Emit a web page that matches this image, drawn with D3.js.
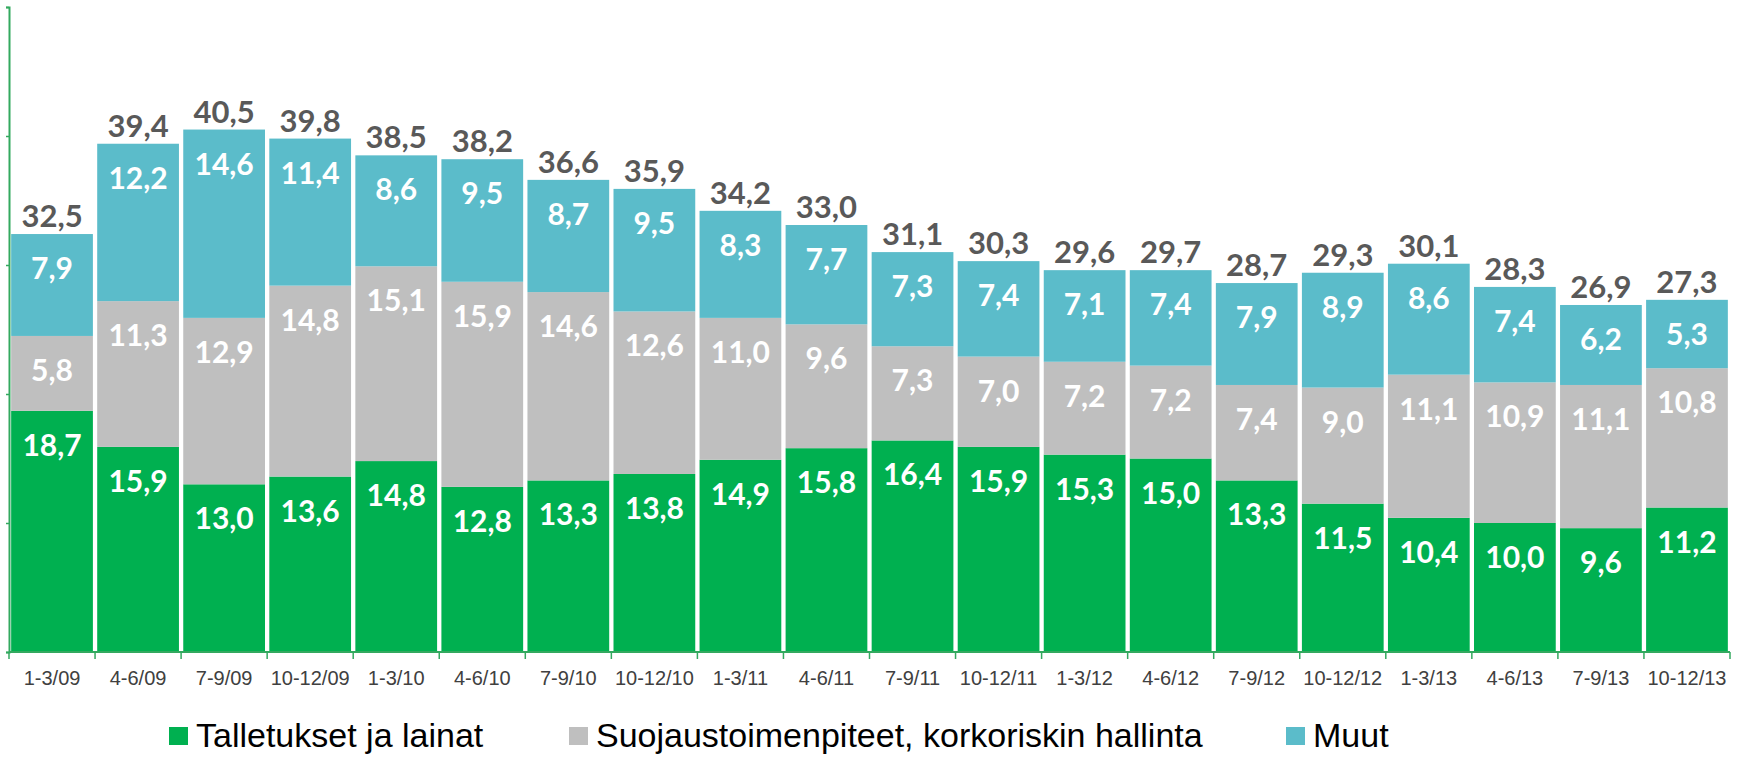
<!DOCTYPE html>
<html>
<head>
<meta charset="utf-8">
<script src="https://cdn.jsdelivr.net/npm/d3@7"></script>
<style>
  body { margin: 0; background: #fff; }
  svg { display: block; }
  .seg_label { font-family: Lato, "Open Sans", sans-serif; font-weight: 700; fill: #fff; }
  .total_label { font-family: Lato, "Open Sans", sans-serif; font-weight: 700; fill: #595959; }
  .tick text { font-family: "Liberation Sans", Arial, sans-serif; }
  .legend_text { font-family: "Liberation Sans", Arial, sans-serif; fill: #000; }
</style>
</head>
<body>
<svg id="chart" width="1749" height="757"></svg>
<script>
// quarters
var quarters = ['1-3/09', '4-6/09', '7-9/09', '10-12/09', '1-3/10', '4-6/10', '7-9/10', '10-12/10',
    '1-3/11', '4-6/11', '7-9/11', '10-12/11', '1-3/12', '4-6/12', '7-9/12', '10-12/12',
    '1-3/13', '4-6/13', '7-9/13', '10-12/13'];

// series values, bottom to top
var talletukset = [18.7, 15.9, 13.0, 13.6, 14.8, 12.8, 13.3, 13.8, 14.9, 15.8, 16.4, 15.9, 15.3, 15.0, 13.3, 11.5, 10.4, 10.0, 9.6, 11.2];
var suojaus = [5.8, 11.3, 12.9, 14.8, 15.1, 15.9, 14.6, 12.6, 11.0, 9.6, 7.3, 7.0, 7.2, 7.2, 7.4, 9.0, 11.1, 10.9, 11.1, 10.8];
var muut = [7.9, 12.2, 14.6, 11.4, 8.6, 9.5, 8.7, 9.5, 8.3, 7.7, 7.3, 7.4, 7.1, 7.4, 7.9, 8.9, 8.6, 7.4, 6.2, 5.3];
var totals = [32.5, 39.4, 40.5, 39.8, 38.5, 38.2, 36.6, 35.9, 34.2, 33.0, 31.1, 30.3, 29.6, 29.7, 28.7, 29.3, 30.1, 28.3, 26.9, 27.3];

var seriesNames = ['Talletukset ja lainat', 'Suojaustoimenpiteet, korkoriskin hallinta', 'Muut'];
var seriesColors = ['#00b050', '#bfbfbf', '#5bbcca'];
var axisColor = '#33a95f';

// build table for d3.stack
var rows = quarters.map((q, i) => ({
    quarter: q,
    [seriesNames[0]]: talletukset[i],
    [seriesNames[1]]: suojaus[i],
    [seriesNames[2]]: muut[i],
    total: totals[i]
}));

var stacked = d3.stack().keys(seriesNames)(rows);

// finnish number format, comma decimal
var fiFormat = d3.formatLocale({decimal: ',', thousands: ' ', grouping: [3], currency: ['', ' €']}).format('.1f');

var svg = d3.select('#chart');

var x = d3.scaleBand()
    .domain(quarters)
    .range([9, 1730])
    .paddingInner(0.05)
    .paddingOuter(0.025);

var y = d3.scaleLinear()
    .domain([0, 50])
    .range([652, 7]);

// bars
var layers = svg.selectAll('.layer')
    .data(stacked)
    .enter()
    .append('g')
    .attr('class', 'layer')
    .attr('fill', (d, i) => seriesColors[i]);

layers.selectAll('rect')
    .data(d => d)
    .enter()
    .append('rect')
    .attr('x', d => x(d.data.quarter))
    .attr('width', x.bandwidth())
    .attr('y', d => y(d[1]))
    .attr('height', d => y(d[0]) - y(d[1]));

// white labels near top of each segment
layers.selectAll('.seg_label')
    .data((d) => d.map(v => ({v: v, key: d.key})))
    .enter()
    .append('text')
    .attr('class', 'seg_label')
    .attr('text-anchor', 'middle')
    .style('font-size', '30px')
    .attr('x', d => x(d.v.data.quarter) + x.bandwidth() / 2)
    .attr('y', d => y(d.v[1]) + 45)
    .text(d => fiFormat(d.v.data[d.key]));

// totals above bars
svg.selectAll('.total_label')
    .data(stacked[stacked.length - 1])
    .enter()
    .append('text')
    .attr('class', 'total_label')
    .attr('text-anchor', 'middle')
    .style('font-size', '31px')
    .attr('x', d => x(d.data.quarter) + x.bandwidth() / 2)
    .attr('y', d => y(d[1]) - 7)
    .text(d => fiFormat(d.data.total));

// y axis: line and small ticks, no labels
var yAxis = svg.append('g')
    .attr('transform', 'translate(9,0)')
    .call(d3.axisLeft(y).tickValues([0, 10, 20, 30, 40, 50]).tickSize(3).tickFormat(''));
yAxis.select('.domain').attr('stroke', axisColor).attr('stroke-width', 2);
yAxis.selectAll('.tick line').attr('stroke', axisColor).attr('stroke-width', 1.5);

// x axis: labels centred, ticks at band edges
var xAxis = svg.append('g')
    .attr('transform', `translate(0,${y(0)})`)
    .call(d3.axisBottom(x).tickSize(0).tickPadding(0).tickSizeOuter(0));
xAxis.select('.domain').attr('stroke', axisColor).attr('stroke-width', 2).attr('d', `M9,0H1730`);
xAxis.selectAll('.tick text')
    .attr('fill', '#404040')
    .style('font-size', '20px')
    .attr('dy', 0)
    .attr('y', 33);

svg.append('g')
    .selectAll('line')
    .data(d3.range(quarters.length + 1))
    .enter()
    .append('line')
    .attr('x1', i => 9 + i * x.step())
    .attr('x2', i => 9 + i * x.step())
    .attr('y1', y(0))
    .attr('y2', y(0) + 7)
    .attr('stroke', axisColor)
    .attr('stroke-width', 1.5);

// legend
var legendX = [169, 569, 1286];
var legend = svg.selectAll('.legend_item')
    .data(seriesNames)
    .enter()
    .append('g')
    .attr('class', 'legend_item')
    .attr('transform', (d, i) => `translate(${legendX[i]}, 727)`);

legend.append('rect')
    .attr('width', 19)
    .attr('height', 18)
    .attr('fill', (d, i) => seriesColors[i]);

legend.append('text')
    .attr('class', 'legend_text')
    .attr('x', 27)
    .attr('y', 20)
    .style('font-size', '34px')
    .text(d => d);
</script>
</body>
</html>
